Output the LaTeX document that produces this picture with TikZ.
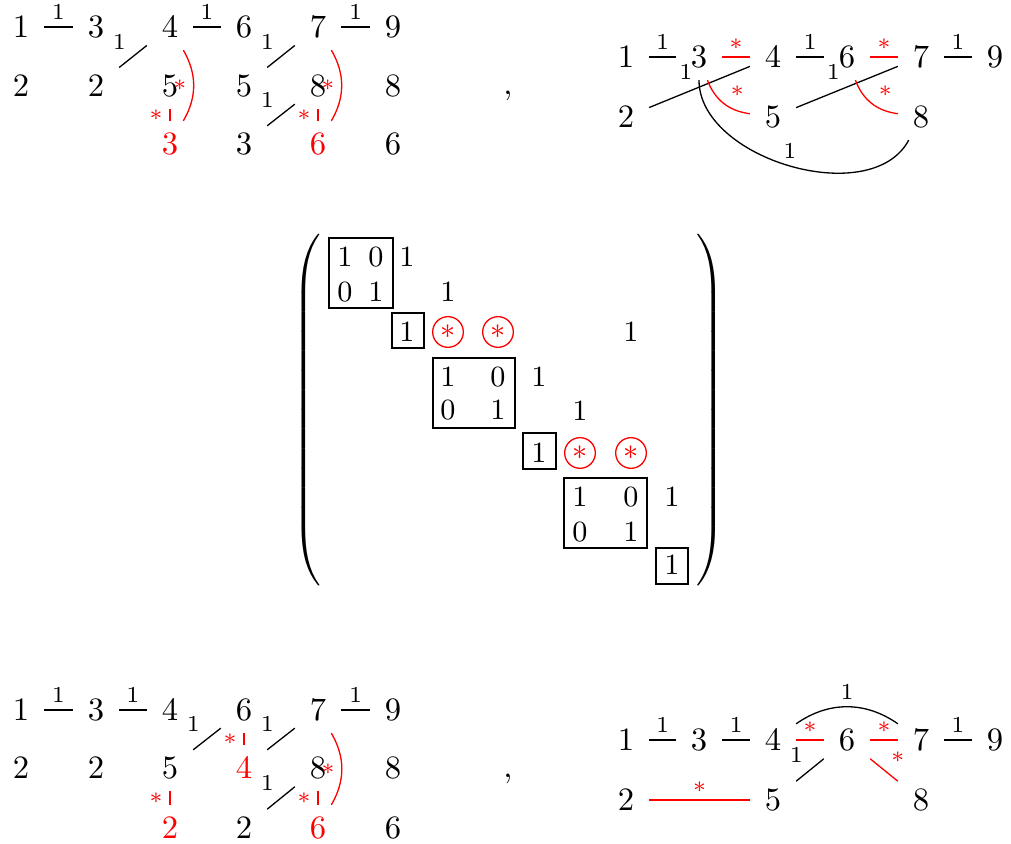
\documentclass[tikz,border=0pt]{standalone}
\begin{document}
\begin{tikzpicture}[
    x=0.01078cm,
    y=0.01078cm,
    vx/.style={
      inner sep=0pt,
      minimum size=13.8pt
    },
    rv/.style={vx, text=red},
    lab/.style={font=\scriptsize, inner sep=2pt},
    ent/.style={font=\small, inner sep=0pt},
    circ/.style={
      ent,
      circle,
      draw=red,
      text=red,
      minimum size=9.4pt
    }
  ]
  \useasboundingbox (0,0) rectangle (1011,-844);

  % top left
  \node (a1) at (21,-27) [vx]{$1$};
  \node (a2) at (96,-27) [vx]{$3$};
  \node (a3) at (170,-27) [vx]{$4$};
  \node (a4) at (244,-27) [vx]{$6$};
  \node (a5) at (318,-27) [vx]{$7$};
  \node (a6) at (393,-27) [vx]{$9$};

  \node (a7) at (21,-86) [vx]{$2$};
  \node (a8) at (96,-86) [vx]{$2$};
  \node (a9) at (170,-86) [vx]{$5$};
  \node (a10) at (244,-86) [vx]{$5$};
  \node (a11) at (318,-86) [vx]{$8$};
  \node (a12) at (393,-86) [vx]{$8$};

  \node (a13) at (170,-144) [rv]{$3$};
  \node (a14) at (244,-144) [vx]{$3$};
  \node (a15) at (318,-144) [rv]{$6$};
  \node (a16) at (393,-144) [vx]{$6$};

  \draw (a1) -- node[lab,above]{$1$} (a2);
  \draw (a3) -- node[lab,above]{$1$} (a4);
  \draw (a5) -- node[lab,above]{$1$} (a6);
  \draw (a8) -- node[lab,above left]{$1$} (a3);
  \draw (a10) -- node[lab,above left]{$1$} (a5);
  \draw (a14) -- node[lab,above left]{$1$} (a11);
  \draw[red] (a9) -- node[lab,left]{$*$} (a13);
  \draw[red] (a11) -- node[lab,left]{$*$} (a15);
  \draw[red] (a3) to[bend left=30] node[lab,left]{$*$} (a13);
  \draw[red] (a5) to[bend left=30] node[lab,left]{$*$} (a15);

  \node (k1) at (508,-95) [anchor=base]{,};

  % top right
  \node (b1) at (626,-57) [vx]{$1$};
  \node (b2) at (699,-57) [vx]{$3$};
  \node (b3) at (773,-57) [vx]{$4$};
  \node (b4) at (847,-57) [vx]{$6$};
  \node (b5) at (921,-57) [vx]{$7$};
  \node (b6) at (995,-57) [vx]{$9$};
  \node (b7) at (626,-117) [vx]{$2$};
  \node (b8) at (773,-117) [vx]{$5$};
  \node (b9) at (921,-117) [vx]{$8$};

  \draw (b1) -- node[lab,above]{$1$} (b2);
  \draw[red] (b2) -- node[lab,above]{$*$} (b3);
  \draw (b3) -- node[lab,above]{$1$} (b4);
  \draw[red] (b4) -- node[lab,above]{$*$} (b5);
  \draw (b5) -- node[lab,above]{$1$} (b6);
  \draw (b7) -- node[lab,above left]{$1$} (b3);
  \draw (b8) -- node[lab,above left]{$1$} (b5);
  \draw[red] (b2) to[bend right=31] node[lab,above right]{$*$} (b8);
  \draw[red] (b4) to[bend right=31] node[lab,above right]{$*$} (b9);
  \draw (b2) to[out=-90,in=-118,looseness=0.93] node[lab,above]{$1$} (b9);

  % matrix
  \node (lp) at (309,-410) [inner sep=0pt]{$\left(\rule[-53.5pt]{0pt}{112pt}\right.$};
  \node (rp) at (709,-410) [inner sep=0pt]{$\left.\rule[-53.5pt]{0pt}{112pt}\right)$};

  \node (m11) at (345,-257) [ent]{$1$};
  \node (m12) at (376,-257) [ent]{$0$};
  \node (m13) at (407,-257) [ent]{$1$};
  \node (m21) at (345,-292) [ent]{$0$};
  \node (m22) at (376,-292) [ent]{$1$};
  \node (m24) at (448,-292) [ent]{$1$};
  \node (m33) at (407,-332) [ent]{$1$};
  \node (m34) at (448,-332) [circ]{$*$};
  \node (m35) at (498,-332) [circ]{$*$};
  \node (m38) at (631,-332) [ent]{$1$};
  \node (m44) at (448,-377) [ent]{$1$};
  \node (m45) at (498,-377) [ent]{$0$};
  \node (m46) at (539,-377) [ent]{$1$};
  \node (m54) at (448,-410) [ent]{$0$};
  \node (m55) at (498,-410) [ent]{$1$};
  \node (m57) at (580,-411) [ent]{$1$};
  \node (m66) at (539,-453) [ent]{$1$};
  \node (m67) at (580,-453) [circ]{$*$};
  \node (m68) at (631,-453) [circ]{$*$};
  \node (m77) at (580,-497) [ent]{$1$};
  \node (m78) at (631,-497) [ent]{$0$};
  \node (m79) at (672,-497) [ent]{$1$};
  \node (m87) at (580,-532) [ent]{$0$};
  \node (m88) at (631,-532) [ent]{$1$};
  \node (m99) at (672,-565) [ent]{$1$};

  \draw (329,-238) rectangle (393,-308);
  \draw (392,-313) rectangle (424,-348);
  \draw (433,-358) rectangle (515,-428);
  \draw (523,-433) rectangle (556,-469);
  \draw (564,-478) rectangle (647,-548);
  \draw (656,-548) rectangle (688,-584);

  % bottom left
  \node (c1) at (21,-710) [vx]{$1$};
  \node (c2) at (96,-710) [vx]{$3$};
  \node (c3) at (170,-710) [vx]{$4$};
  \node (c4) at (244,-710) [vx]{$6$};
  \node (c5) at (318,-710) [vx]{$7$};
  \node (c6) at (393,-710) [vx]{$9$};

  \node (c7) at (21,-768) [vx]{$2$};
  \node (c8) at (96,-768) [vx]{$2$};
  \node (c9) at (170,-768) [vx]{$5$};
  \node (c10) at (244,-768) [rv]{$4$};
  \node (c11) at (318,-768) [vx]{$8$};
  \node (c12) at (393,-768) [vx]{$8$};

  \node (c13) at (170,-828) [rv]{$2$};
  \node (c14) at (244,-828) [vx]{$2$};
  \node (c15) at (318,-828) [rv]{$6$};
  \node (c16) at (393,-828) [vx]{$6$};

  \draw (c1) -- node[lab,above]{$1$} (c2);
  \draw (c2) -- node[lab,above]{$1$} (c3);
  \draw (c5) -- node[lab,above]{$1$} (c6);
  \draw (c9) -- node[lab,above left]{$1$} (c4);
  \draw (c10) -- node[lab,above left]{$1$} (c5);
  \draw (c14) -- node[lab,above left]{$1$} (c11);
  \draw[red] (c4) -- node[lab,left]{$*$} (c10);
  \draw[red] (c9) -- node[lab,left]{$*$} (c13);
  \draw[red] (c11) -- node[lab,left]{$*$} (c15);
  \draw[red] (c5) to[bend left=30] node[lab,left]{$*$} (c15);

  \node (k2) at (508,-778) [anchor=base]{,};

  % bottom right
  \node (d1) at (626,-740) [vx]{$1$};
  \node (d2) at (699,-740) [vx]{$3$};
  \node (d3) at (773,-740) [vx]{$4$};
  \node (d4) at (847,-740) [vx]{$6$};
  \node (d5) at (921,-740) [vx]{$7$};
  \node (d6) at (995,-740) [vx]{$9$};
  \node (d7) at (626,-800) [vx]{$2$};
  \node (d8) at (773,-800) [vx]{$5$};
  \node (d9) at (921,-800) [vx]{$8$};

  \draw (d1) -- node[lab,above]{$1$} (d2);
  \draw (d2) -- node[lab,above]{$1$} (d3);
  \draw[red] (d3) -- node[lab,above]{$*$} (d4);
  \draw[red] (d4) -- node[lab,above]{$*$} (d5);
  \draw (d5) -- node[lab,above]{$1$} (d6);
  \draw[red] (d7) -- node[lab,above]{$*$} (d8);
  \draw (d8) -- node[lab,above left]{$1$} (d4);
  \draw[red] (d4) -- node[lab,above right]{$*$} (d9);
  \draw (d3) to[bend left=35] node[lab,above]{$1$} (d5);

\end{tikzpicture}
\end{document}
